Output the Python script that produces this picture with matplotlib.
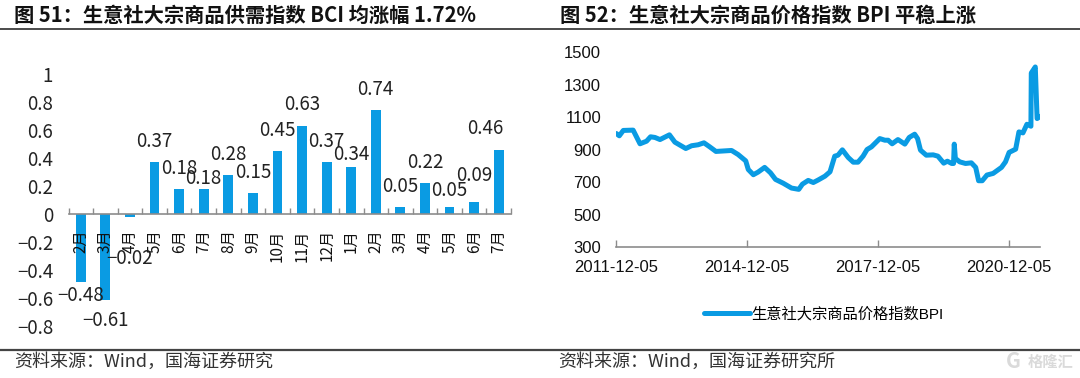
import matplotlib
matplotlib.use('Agg')
import matplotlib.pyplot as plt

W, H = 1080, 378
BLUE = '#0A9BE3'
GREY = '#8C8C8C'
CJK = ['Noto Sans CJK SC', 'DejaVu Sans']
ARIAL = ['Liberation Sans', 'Noto Sans CJK SC']

# 图51 BCI
bci_months = ['2月', '3月', '4月', '5月', '6月', '7月', '8月', '9月', '10月', '11月', '12月',
              '1月', '2月', '3月', '4月', '5月', '6月', '7月']
bci_values = [-0.48, -0.61, -0.02, 0.37, 0.18, 0.18, 0.28, 0.15, 0.45, 0.63, 0.37,
              0.34, 0.74, 0.05, 0.22, 0.05, 0.09, 0.46]
bci_ticks = [1, 0.8, 0.6, 0.4, 0.2, 0, -0.2, -0.4, -0.6, -0.8]
bci_ticklabels = ['1', '0.8', '0.6', '0.4', '0.2', '0', '−0.2', '−0.4', '−0.6', '−0.8']

# 图52 BPI，横轴为距 2011-12-05 的月数
bpi_months = [0, 0.8, 1.9, 4.6, 6.5, 8.3, 9.4, 10.6, 12, 14.6, 16.1, 19.1, 20.7, 22.5, 24.1, 25.7,
              27.4, 31.7, 33.5, 35.6, 36.3, 37.7, 39, 40.8, 42.4, 43.8, 45.9, 48.2, 50.2, 51.2,
              52.8, 54.2, 55.5, 57.4, 58.8, 60.1, 61, 62.2, 63.8, 65.2, 66.5, 67.9, 69, 70.2,
              72.5, 73.9, 74.8, 75.9, 77.5, 79.4, 80.6, 82.1, 82.9, 83.7, 85.3, 87.2, 88.5,
              90.1, 91.1, 92.3, 92.8, 93, 93.3, 94.5, 96.1, 97.7, 98.9, 99.7, 100.7, 102,
              103.7, 106, 107.1, 108.1, 109.9, 110.8, 111.9, 113, 114.1, 114.2, 115.3, 115.8,
              116.7]
bpi_values = [999, 985, 1018, 1020, 936, 952, 979, 975, 962, 991, 946, 907, 924, 930, 942, 917,
              889, 895, 870, 831, 778, 746, 762, 791, 758, 717, 694, 664, 656, 688,
              711, 698, 713, 737, 764, 860, 866, 899, 852, 823, 823, 860, 901, 917,
              968, 958, 958, 936, 962, 934, 975, 995, 968, 897, 866, 868, 860,
              817, 829, 815, 815, 934, 846, 825, 815, 819, 791, 709, 709, 744,
              754, 791, 825, 883, 903, 1009, 1003, 1056, 1044, 1371, 1408, 1091,
              1105]
bpi_ticks = [0, 36, 72, 108]
bpi_ticklabels = ['2011-12-05', '2014-12-05', '2017-12-05', '2020-12-05']
bpi_yticks = [300, 500, 700, 900, 1100, 1300, 1500]


def px_axes(fig, x0, x1, y_top, y_bottom):
    return fig.add_axes([x0 / W, 1 - y_bottom / H, (x1 - x0) / W, (y_bottom - y_top) / H])


def fig_text(fig, x, y, s, **kw):
    fig.text(x / W, 1 - y / H, s, va='center', **kw)


def rule(fig, x0, x1, y, lw, color):
    fig.add_artist(plt.Line2D([x0 / W, x1 / W], [1 - y / H, 1 - y / H], lw=lw, color=color))


fig = plt.figure(figsize=(W / 100, H / 100), dpi=100)

# 左图
ax = px_axes(fig, 68.5, 511, 74, 326.5)
x = list(range(len(bci_values)))
ax.bar(x, bci_values, width=0.4, color=BLUE)
ax.set_xlim(-0.5, len(x) - 0.5)
ax.set_ylim(-0.8, 1)
for s in ['top', 'right', 'left']:
    ax.spines[s].set_visible(False)
ax.spines['bottom'].set_position(('data', 0))
ax.spines['bottom'].set_color(GREY)
ax.spines['bottom'].set_linewidth(1.2)
ax.set_xticks([i - 0.5 for i in range(len(x) + 1)])
ax.set_xticklabels([])
ax.tick_params(axis='x', direction='in', length=4, color=GREY, width=1)
ax.set_yticks(bci_ticks)
ax.set_yticklabels(bci_ticklabels, family=CJK, fontsize=13.5, color='#222222')
ax.tick_params(axis='y', length=0, pad=11)
for i, m in enumerate(bci_months):
    ax.annotate(m, (i, 0), xytext=(0, -15), textcoords='offset pixels', rotation=90,
                ha='center', va='top', family=CJK, fontsize=11, color='#111111')

# 标签大多在柱外约21像素，重叠处个别调整
shift_y = {0: 14, 2: 41, 5: 11, 11: 12, 15: 17, 16: 26}
shift_x = {17: -13}
for i, v in enumerate(bci_values):
    dy = shift_y.get(i, 21)
    ax.annotate(f'{v:.2f}'.replace('-', '−'), (i, v), xytext=(shift_x.get(i, 0), dy if v > 0 else -dy),
                textcoords='offset pixels', ha='center', va='center', family=CJK,
                fontsize=13.5, color='#222222')

# 右图
ax2 = px_axes(fig, 616.4, 1040, 52, 247.3)
line, = ax2.plot(bpi_months, bpi_values, color=BLUE, lw=3.6, solid_capstyle='round',
                 solid_joinstyle='round', label='生意社大宗商品价格指数BPI')
ax2.set_xlim(0, 116.6)
ax2.set_ylim(300, 1500)
for s in ['top', 'right', 'left']:
    ax2.spines[s].set_visible(False)
ax2.spines['bottom'].set_color(GREY)
ax2.spines['bottom'].set_linewidth(1.2)
ax2.set_xticks(bpi_ticks)
ax2.set_xticklabels(bpi_ticklabels, family=ARIAL, fontsize=12, color='#111111')
ax2.tick_params(axis='x', direction='in', length=5, color=GREY, width=1, pad=9)
ax2.set_yticks(bpi_yticks)
ax2.set_yticklabels([str(v) for v in bpi_yticks], family=ARIAL, fontsize=12, color='#111111')
ax2.tick_params(axis='y', length=0, pad=11)
ax2.legend(handles=[line], loc='center', bbox_to_anchor=(824 / W, 1 - 314 / H),
           bbox_transform=fig.transFigure, frameon=False, handlelength=3, handletextpad=0.1,
           prop={'family': ARIAL, 'size': 11})

# 标题和来源
title_kw = dict(family=CJK, fontsize=14.6, fontweight='bold', color='#111111')
fig_text(fig, 14, 15, '图 51：生意社大宗商品供需指数 BCI 均涨幅 1.72%', **title_kw)
fig_text(fig, 560, 15, '图 52：生意社大宗商品价格指数 BPI 平稳上涨', **title_kw)
rule(fig, 0, W, 29, 1.1, '#1A1A1A')
rule(fig, 0, W, 350, 1.6, '#444444')
foot_kw = dict(family=CJK, fontsize=13, color='#333333')
fig_text(fig, 14, 362, '资料来源：Wind，国海证券研究', **foot_kw)
fig_text(fig, 558, 362, '资料来源：Wind，国海证券研究所', **foot_kw)
fig_text(fig, 1006, 362, 'G', family=CJK, fontsize=15, fontweight='bold', color='#DADADA')
fig_text(fig, 1028, 362, '格隆汇', family=CJK, fontsize=11, fontweight='bold', color='#DADADA')

fig.savefig('out.png', dpi=100)
